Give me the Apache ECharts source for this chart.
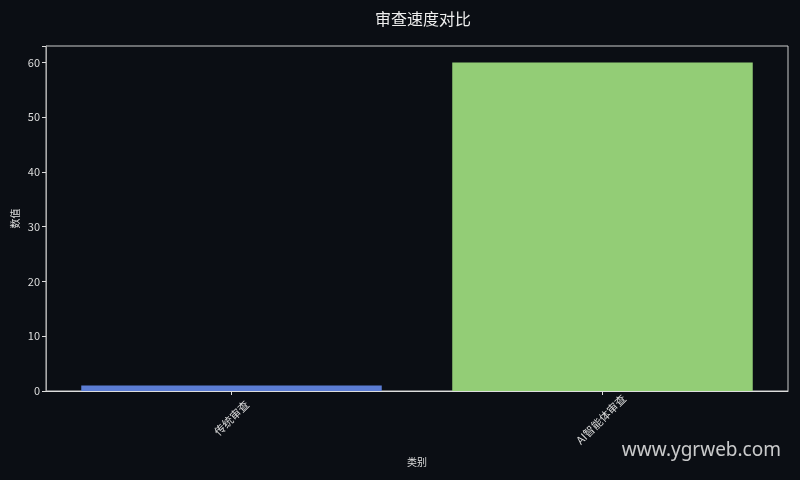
<!DOCTYPE html>
<html>
<head>
<meta charset="utf-8">
<script src="https://cdn.jsdelivr.net/npm/echarts@6/dist/echarts.min.js"></script>
<style>
html,body{margin:0;padding:0;background:#0b0e14;}
#c{width:800px;height:480px;}
</style>
</head>
<body>
<div id="c"></div>
<script>
const categories = ['传统审查', 'AI智能体审查'];
const values = [1, 60];
const barColors = ['#5b7cd3', '#93cd76'];
const yTicks = [0, 10, 20, 30, 40, 50, 60];

const chart = echarts.init(document.getElementById('c'));
const font = '"Noto Sans CJK SC", "Noto Sans", sans-serif';
// per-label offsets mimic top-anchored rotated labels
const labelPads = [[0, 0, 0, 0], [30, 4, 0, 0]];
chart.setOption({
  backgroundColor: '#0b0e14',
  animation: false,
  title: {
    text: '审查速度对比',
    left: 418,
    textAlign: 'center',
    top: 6,
    textStyle: { color: '#eeeeee', fontSize: 16, fontWeight: 'normal', fontFamily: font }
  },
  grid: {
    left: 46, right: 12, top: 46, bottom: 89,
    containLabel: false, outerBoundsMode: 'none',
    show: true, borderColor: '#cccccc', borderWidth: 1
  },
  xAxis: {
    type: 'category',
    data: categories.map((c, i) => ({
      value: c,
      textStyle: { align: 'center', verticalAlign: 'middle', padding: labelPads[i] }
    })),
    name: '类别',
    nameLocation: 'middle',
    nameGap: 66,
    nameMoveOverlap: false,
    nameTextStyle: { color: '#dddddd', fontSize: 10, fontFamily: font },
    axisLine: { show: true, lineStyle: { color: '#dddddd' } },
    axisTick: { show: true, alignWithLabel: true, length: 4, lineStyle: { color: '#dddddd' } },
    axisLabel: {
      rotate: 45, align: 'center', verticalAlign: 'middle',
      color: '#dddddd', fontSize: 11, margin: 27, fontFamily: font
    },
    splitLine: { show: false }
  },
  yAxis: {
    type: 'value',
    min: 0,
    max: 63,
    interval: 10,
    name: '数值',
    nameLocation: 'middle',
    nameGap: 26,
    nameRotate: 90,
    nameMoveOverlap: false,
    nameTextStyle: { color: '#dddddd', fontSize: 10, fontFamily: font },
    axisLine: { show: true, lineStyle: { color: '#aaaaaa' } },
    axisTick: { show: true, length: 4, lineStyle: { color: '#dddddd' } },
    axisLabel: {
      color: '#dddddd', fontSize: 11, margin: 6, fontFamily: font,
      formatter: v => yTicks.includes(v) ? String(v) : ''
    },
    splitLine: { show: false }
  },
  series: [{
    type: 'bar',
    barWidth: '81%',
    data: values.map((v, i) => ({ value: v, itemStyle: { color: barColors[i] } }))
  }],
  graphic: [{
    type: 'text',
    right: 19,
    top: 441,
    style: { text: 'www.ygrweb.com', fill: 'rgba(235,235,235,0.85)', fontSize: 19, fontFamily: '"Noto Sans", "DejaVu Sans", sans-serif' }
  }]
});
</script>
</body>
</html>
